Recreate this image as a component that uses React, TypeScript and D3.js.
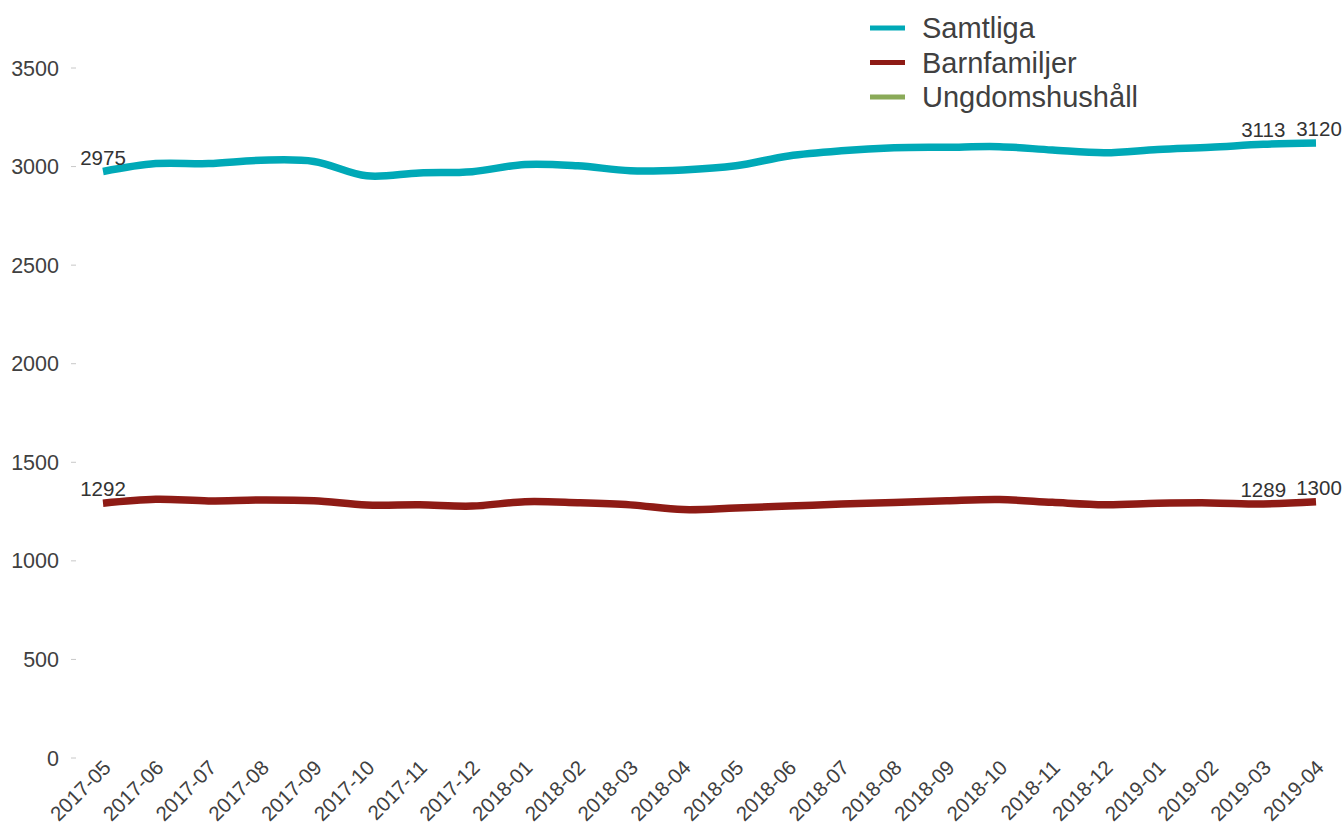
import React from "react";
import * as d3 from "d3";

const months = [
  "2017-05","2017-06","2017-07","2017-08","2017-09","2017-10","2017-11","2017-12",
  "2018-01","2018-02","2018-03","2018-04","2018-05","2018-06","2018-07","2018-08",
  "2018-09","2018-10","2018-11","2018-12","2019-01","2019-02","2019-03","2019-04",
];
const samtliga = [2975,3015,3015,3032,3026,2953,2968,2974,3011,3004,2979,2983,3004,3054,3080,3095,3098,3101,3084,3070,3087,3098,3113,3120];
const barnfamiljer = [1292,1312,1304,1309,1305,1283,1284,1278,1300,1295,1284,1260,1268,1278,1288,1296,1305,1311,1297,1285,1292,1294,1289,1300];
const ungdomshushall: number[] = [];
const yTicks = [0,500,1000,1500,2000,2500,3000,3500];

const seriesNames = ["Samtliga","Barnfamiljer","Ungdomshushåll"];
const seriesColors = ["#00A9B7","#8E1B15","#8AAA58"];
const seriesData = [samtliga, barnfamiljer, ungdomshushall];

const W = 1343, H = 830;
const FONT = "'Liberation Sans', Arial, sans-serif";

export default function App() {
  const x = d3.scalePoint<string>().domain(months).range([103, 1316]);
  const y = d3.scaleLinear().domain([0, 3500]).range([758, 68]);
  const line = d3.line<number>()
    .x((_, i) => x(months[i]) as number)
    .y((d) => y(d))
    .curve(d3.curveCatmullRom.alpha(0.5));

  const labelIdx = [0, months.length - 2, months.length - 1];

  return (
    <div style={{ position: "absolute", left: 0, top: 0 }}>
      <svg width={W} height={H} style={{ display: "block", fontFamily: FONT }}>
        <rect width={W} height={H} fill="#fff" />
        {yTicks.map((t) => (
          <g key={t} transform={`translate(0,${y(t)})`}>
            <line x1={71} x2={76} stroke="#c8c8c8" strokeWidth={1} />
            <text x={59} dy="0.35em" textAnchor="end" fontSize={21.5} fill="#404040">{t}</text>
          </g>
        ))}
        {months.map((m) => (
          <text
            key={m}
            transform={`translate(${(x(m) as number) + 9},${769}) rotate(-45)`}
            textAnchor="end"
            fontSize={20.5}
            fill="#404040"
          >{m}</text>
        ))}
        {seriesData.map((s, si) =>
          s.length ? (
            <path key={si} d={line(s) || ""} fill="none" stroke={seriesColors[si]} strokeWidth={7.5} />
          ) : null
        )}
        {seriesData.map((s, si) =>
          s.length
            ? labelIdx.map((i) => (
                <text
                  key={`${si}-${i}`}
                  x={(x(months[i]) as number) + (i === months.length - 1 ? 3 : 0)}
                  y={y(s[i]) - 7}
                  textAnchor="middle"
                  fontSize={20.5}
                  fill="#333"
                >{s[i]}</text>
              ))
            : null
        )}
        {seriesNames.map((n, i) => (
          <g key={n} transform={`translate(870,${28 + i * 34.5})`}>
            <line x1={0} x2={35} stroke={seriesColors[i]} strokeWidth={5} />
            <text x={52} dy="0.35em" fontSize={29} fill="#404040">{n}</text>
          </g>
        ))}
      </svg>
    </div>
  );
}
